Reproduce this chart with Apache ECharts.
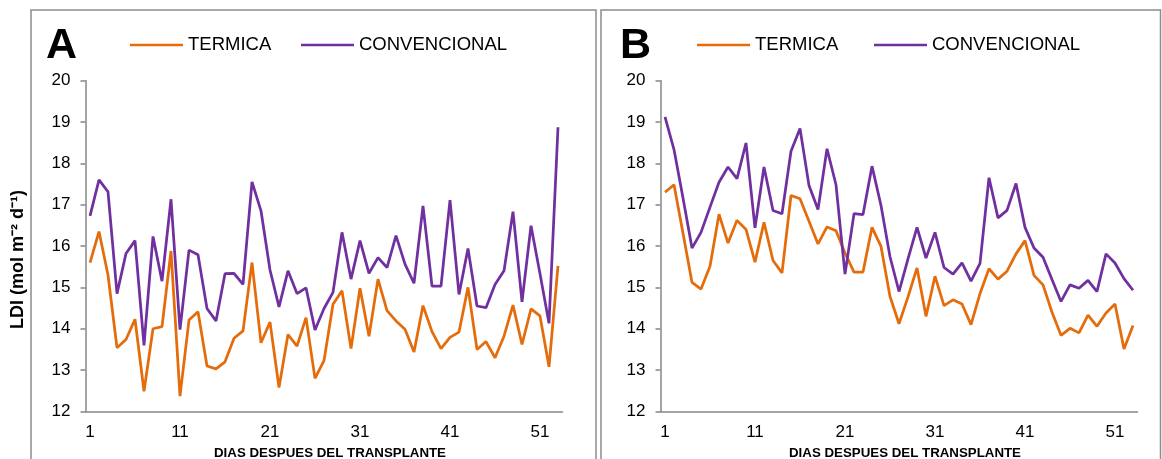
<!DOCTYPE html>
<html>
<head>
<meta charset="utf-8">
<script src="https://cdn.jsdelivr.net/npm/echarts@6/dist/echarts.min.js"></script>
<style>
  html, body { margin: 0; padding: 0; background: #ffffff; }
  #chart { width: 1162px; height: 459px; }
</style>
</head>
<body>
<div id="chart"></div>
<script>
// Days after transplant (1..53)
const days = [];
for (let d = 1; d <= 53; d++) days.push(String(d));

// Panel A: daily light integral (mol m-2 d-1)
const termicaA = [15.60,16.35,15.30,13.54,13.74,14.23,12.49,14.00,14.05,15.88,
                  12.37,14.21,14.41,13.10,13.03,13.20,13.77,13.95,15.60,13.66,
                  14.16,12.58,13.86,13.58,14.27,12.80,13.23,14.59,14.92,13.52,
                  14.98,13.82,15.20,14.44,14.19,13.99,13.44,14.56,13.93,13.52,
                  13.79,13.92,15.00,13.50,13.69,13.30,13.82,14.57,13.62,14.48,
                  14.31,13.08,15.52];
const convencionalA = [16.73,17.60,17.31,14.85,15.82,16.13,13.60,16.23,15.15,17.13,
                       13.98,15.90,15.79,14.49,14.19,15.33,15.34,15.07,17.55,16.85,
                       15.42,14.53,15.40,14.85,14.99,13.97,14.49,14.88,16.33,15.20,
                       16.13,15.34,15.72,15.48,16.25,15.56,15.10,16.97,15.03,15.03,
                       17.11,14.83,15.94,14.55,14.51,15.07,15.40,16.83,14.65,16.49,
                       15.33,14.13,18.87];

// Panel B
const termicaB = [17.30,17.48,16.31,15.12,14.96,15.51,16.77,16.07,16.62,16.40,
                  15.61,16.57,15.65,15.35,17.22,17.14,16.60,16.05,16.46,16.37,
                  15.83,15.37,15.37,16.45,15.99,14.78,14.12,14.77,15.47,14.30,
                  15.27,14.56,14.70,14.60,14.10,14.85,15.45,15.20,15.39,15.81,
                  16.13,15.29,15.06,14.40,13.84,14.01,13.90,14.33,14.06,14.38,
                  14.60,13.51,14.08];
const convencionalB = [19.12,18.33,17.16,15.95,16.33,16.94,17.54,17.91,17.63,18.49,
                       16.44,17.91,16.86,16.78,18.29,18.84,17.46,16.88,18.35,17.48,
                       15.32,16.78,16.76,17.93,16.98,15.74,14.90,15.69,16.45,15.71,
                       16.33,15.48,15.32,15.59,15.15,15.58,17.65,16.68,16.86,17.51,
                       16.45,15.95,15.73,15.19,14.66,15.06,14.98,15.17,14.90,15.81,
                       15.59,15.21,14.93];

const seriesNames = ['TERMICA', 'CONVENCIONAL'];
const panelLetters = ['A', 'B'];
const yTitle = 'LDI (mol m\u207B\u00B2 d\u207B\u00B9)';
const xTitle = 'DIAS DESPUES DEL TRANSPLANTE';

const ORANGE = '#E46C0A';
const PURPLE = '#7030A0';
const AXIS = '#878787';
const FONT = '"Liberation Sans", Arial, sans-serif';

const grids = [
  { left: 85.5, top: 80.5, width: 477, height: 331 },
  { left: 660.5, top: 80.5, width: 477, height: 331 }
];

function xAxisFor(i) {
  return {
    type: 'category', gridIndex: i, data: days, boundaryGap: true,
    axisLine: { lineStyle: { color: AXIS, width: 1.5 } },
    axisTick: { interval: 9, length: 5, lineStyle: { color: AXIS, width: 1.5 } },
    axisLabel: { interval: 9, margin: 12, fontSize: 17, color: '#000', fontFamily: FONT },
    splitLine: { show: false }
  };
}
function yAxisFor(i) {
  return {
    type: 'value', gridIndex: i, min: 12, max: 20, interval: 1,
    axisLine: { show: true, lineStyle: { color: AXIS, width: 1.5 } },
    axisTick: { show: true, length: 5, lineStyle: { color: AXIS, width: 1.5 } },
    axisLabel: { margin: 15, fontSize: 17, color: '#000', fontFamily: FONT },
    splitLine: { show: false }
  };
}
function lineSeries(name, data, color, i) {
  return {
    name: name, type: 'line', xAxisIndex: i, yAxisIndex: i, data: data,
    symbol: 'none', smooth: false, animation: false,
    lineStyle: { color: color, width: 2.75 }, itemStyle: { color: color }
  };
}
function legendItem(name, left) {
  return {
    data: [name], left: left, top: 35.5, icon: 'rect', itemWidth: 53, itemHeight: 2.5,
    itemGap: 0, padding: 0,
    textStyle: { fontSize: 18.5, color: '#000', fontFamily: FONT, padding: [0, 0, 0, 0] }
  };
}

const chart = echarts.init(document.getElementById('chart'), null, { renderer: 'canvas' });
chart.setOption({
  backgroundColor: '#ffffff',
  animation: false,
  grid: grids,
  xAxis: [xAxisFor(0), xAxisFor(1)],
  yAxis: [yAxisFor(0), yAxisFor(1)],
  legend: [
    legendItem(seriesNames[0], 130),
    legendItem(seriesNames[1], 301),
    legendItem(seriesNames[0], 697),
    legendItem(seriesNames[1], 874)
  ],
  series: [
    lineSeries(seriesNames[0], termicaA, ORANGE, 0),
    lineSeries(seriesNames[1], convencionalA, PURPLE, 0),
    lineSeries(seriesNames[0], termicaB, ORANGE, 1),
    lineSeries(seriesNames[1], convencionalB, PURPLE, 1)
  ],
  graphic: [
    // panel frames
    { type: 'rect', shape: { x: 31, y: 10, width: 565, height: 470 },
      style: { fill: 'none', stroke: '#8c8c8c', lineWidth: 1.5 } },
    { type: 'rect', shape: { x: 601, y: 10, width: 559.5, height: 470 },
      style: { fill: 'none', stroke: '#8c8c8c', lineWidth: 1.5 } },
    // panel letters
    { type: 'text', x: 46, y: 46, style: { text: panelLetters[0], fill: '#000',
      font: 'bold 43px ' + FONT, align: 'left', verticalAlign: 'middle' } },
    { type: 'text', x: 620, y: 46, style: { text: panelLetters[1], fill: '#000',
      font: 'bold 43px ' + FONT, align: 'left', verticalAlign: 'middle' } },
    // y axis title
    { type: 'text', x: 18, y: 259.5, rotation: Math.PI / 2, style: { text: yTitle, fill: '#000',
      font: 'bold 18px ' + FONT, align: 'center', verticalAlign: 'middle' } },
    // x axis titles
    { type: 'text', x: 330, y: 453, style: { text: xTitle, fill: '#000',
      font: 'bold 13.3px ' + FONT, align: 'center', verticalAlign: 'middle' } },
    { type: 'text', x: 905, y: 453, style: { text: xTitle, fill: '#000',
      font: 'bold 13.3px ' + FONT, align: 'center', verticalAlign: 'middle' } }
  ]
});
</script>
</body>
</html>
